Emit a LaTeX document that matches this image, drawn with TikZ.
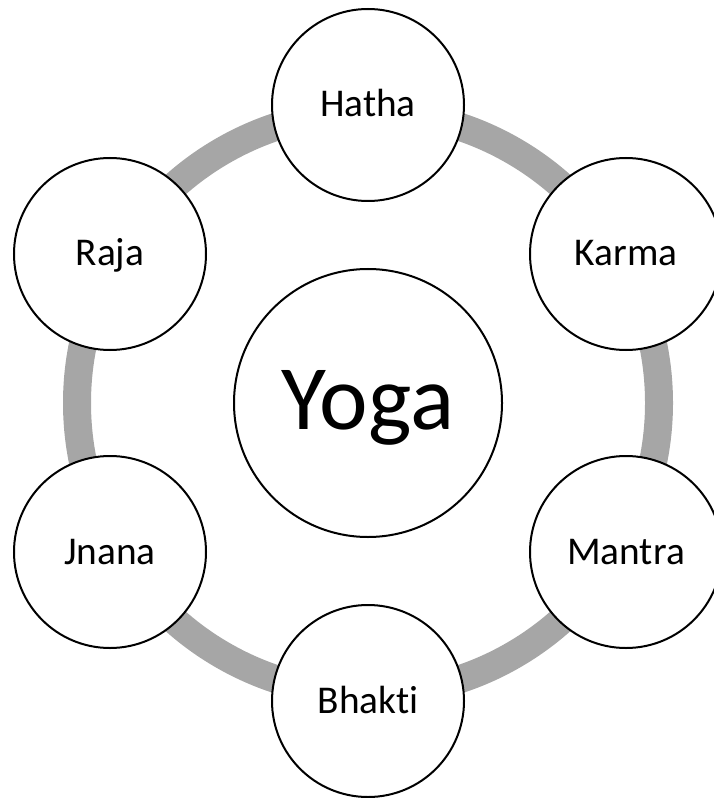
\documentclass[tikz,border=0pt]{standalone}
\usepackage{fontspec}
\setmainfont[Ligatures={NoCommon}]{Carlito}
\usepackage{tikz}
\definecolor{ringgrey}{HTML}{A6A6A6}

\begin{document}
\begin{tikzpicture}[
    x=0.75pt, y=-0.75pt,
    hub/.style={circle, draw=black, fill=white, line width=1.5pt, minimum size=201pt, inner sep=0pt, font=\fontsize{69}{76}\selectfont, text height=39pt, text depth=0pt},
    petal/.style={circle, draw=black, fill=white, line width=1.5pt, minimum size=144pt, inner sep=0pt, font=\fontsize{29.5}{35}\selectfont, text height=18pt, text depth=0pt},
    ring/.style={draw=ringgrey, line width=21pt}
]
    \useasboundingbox (0,0) rectangle (713,798);

    \node (yoga) [hub] at (368,403) {Yoga};

    % grey ring behind the six petals
    \draw[ring] (yoga.center) circle[radius=218.25pt];

    \node (hatha) [petal] at (368,105) {Hatha};
    \node (karma) [petal] at (626,254) {Karma};
    \node (mantra) [petal] at (626,552) {Mantra};
    \node (bhakti) [petal] at (368,701) {Bhakti};
    \node (jnana) [petal] at (110,552) {Jnana};
    \node (raja) [petal] at (110,254) {Raja};
\end{tikzpicture}
\end{document}
